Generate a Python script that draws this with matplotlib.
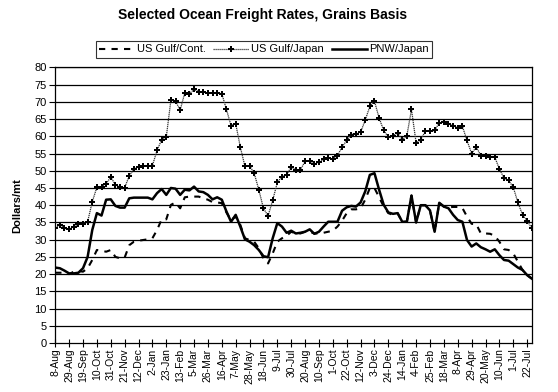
import matplotlib
matplotlib.use("Agg")
import matplotlib.pyplot as plt
import numpy as np

plt.rcParams['font.family'] = ['Liberation Sans', 'DejaVu Sans']

# weekly rates, $/mt, 8-Aug-2003 .. 29-Jul-2005
gulf_cont = [20.4, 20.4, 20.4, 20.0, 20.7, 20.9, 20.7, 21.7, 24.1, 27.0,
             26.8, 26.5, 27.0, 25.0, 24.6, 24.8, 28.4, 29.4, 29.7, 29.9,
             30.1, 30.4, 32.8, 35.9, 35.9, 40.1, 40.8, 39.1, 42.3, 42.5,
             42.5, 42.5, 42.0, 41.6, 40.9, 40.8, 40.6, 37.9, 35.7, 36.7,
             34.3, 30.4, 29.9, 29.4, 27.5, 24.6, 23.1, 26.0, 29.4, 30.4,
             31.1, 32.3, 31.8, 31.8, 32.3, 32.3, 31.8, 31.8, 32.0, 32.3,
             32.6, 33.8, 35.5, 37.7, 38.8, 38.8, 39.1, 41.6, 45.0, 45.0,
             42.3, 39.6, 37.7, 37.2, 37.7, 35.2, 35.2, 42.8, 35.0, 40.0,
             40.0, 38.5, 32.3, 40.7, 39.6, 39.4, 39.5, 39.5, 39.2, 36.7,
             34.6, 34.5, 31.8, 31.8, 31.7, 31.1, 29.4, 27.2, 27.0, 26.0,
             23.6, 21.2, 19.7, 18.7]

gulf_japan = [33.5, 34.3, 33.3, 33.0, 33.8, 34.5, 34.6, 35.2, 41.0, 45.2,
              45.4, 46.2, 48.2, 45.9, 45.2, 45.1, 48.5, 50.5, 51.1, 51.5,
              51.5, 51.5, 55.9, 59.0, 59.8, 70.5, 70.2, 67.6, 72.6, 72.4,
              73.6, 73.0, 72.9, 72.5, 72.5, 72.6, 72.4, 67.8, 63.1, 63.7,
              56.9, 51.3, 51.5, 49.3, 44.5, 39.1, 36.9, 41.4, 46.6, 48.3,
              48.8, 51.1, 50.3, 50.3, 52.7, 52.9, 52.0, 52.4, 53.4, 53.7,
              53.4, 54.4, 56.9, 58.8, 60.5, 60.8, 61.2, 64.7, 68.7, 70.2,
              65.3, 61.7, 59.8, 60.2, 61.0, 59.0, 60.2, 67.8, 58.1, 59.0,
              61.5, 61.5, 61.7, 63.9, 64.1, 63.7, 63.1, 62.4, 62.9, 58.8,
              55.0, 56.9, 54.4, 54.2, 53.9, 54.0, 50.5, 47.9, 47.2, 45.2,
              40.8, 37.2, 35.5, 33.3]

pnw_japan = [21.9, 21.7, 21.0, 20.2, 20.2, 20.4, 21.7, 25.0, 32.8, 37.7,
             37.0, 41.6, 41.7, 39.8, 39.3, 39.3, 42.0, 42.2, 42.2, 42.2,
             42.2, 41.7, 43.5, 44.7, 43.0, 45.0, 44.8, 43.0, 44.5, 44.3,
             45.4, 44.0, 43.8, 43.0, 41.7, 42.3, 41.6, 38.2, 35.2, 37.2,
             33.8, 30.1, 29.4, 28.4, 27.0, 25.2, 24.9, 30.4, 34.8, 33.8,
             32.0, 32.6, 31.8, 32.0, 32.3, 33.0, 31.7, 32.3, 33.8, 35.2,
             35.2, 35.2, 38.4, 39.4, 39.8, 39.6, 40.8, 44.0, 48.8, 49.3,
             44.5, 40.1, 37.9, 37.5, 37.7, 35.2, 35.2, 42.8, 35.0, 40.0,
             40.0, 38.5, 32.3, 40.7, 39.6, 39.1, 37.2, 35.7, 35.2, 29.9,
             28.0, 28.9, 27.8, 27.2, 26.5, 27.2, 25.5, 24.1, 23.9, 22.9,
             21.9, 21.2, 19.7, 18.7]

tick_labels = ['8-Aug', '29-Aug', '19-Sep', '10-Oct', '31-Oct', '21-Nov', '12-Dec',
               '2-Jan', '23-Jan', '13-Feb', '5-Mar', '26-Mar', '16-Apr', '7-May',
               '28-May', '18-Jun', '9-Jul', '30-Jul', '20-Aug', '10-Sep', '1-Oct',
               '22-Oct', '12-Nov', '3-Dec', '24-Dec', '14-Jan', '4-Feb', '25-Feb',
               '18-Mar', '8-Apr', '29-Apr', '20-May', '10-Jun', '1-Jul', '22-Jul']

x = np.arange(len(pnw_japan))

fig = plt.figure(figsize=(5.58, 3.92), dpi=100)
ax = fig.add_axes([0.099, 0.125, 0.854, 0.703])

ax.set_ylim(0, 80)
ax.set_xlim(0, len(x) - 1)
ax.set_yticks(np.arange(0, 81, 5))
for v in np.arange(5, 81, 5):
    ax.axhline(v, color='black', lw=0.9, zorder=1)

ax.plot(x, gulf_cont, color='black', lw=1.5, ls=(0, (3, 3)), label='US Gulf/Cont.', zorder=3)
ax.plot(x, gulf_japan, color='#333333', lw=0.9, ls=(0, (1, 0.6)), marker='P', ms=4,
        mew=0, mfc='black', label='US Gulf/Japan', zorder=4)
ax.plot(x, pnw_japan, color='black', lw=1.8, label='PNW/Japan', zorder=5)

ax.set_xticks(x[::3])
ax.set_xticklabels(tick_labels, rotation=90, fontsize=7.5)
ax.tick_params(axis='x', direction='inout', length=6, width=0.8, pad=1)
ax.tick_params(axis='y', direction='out', length=4, width=0.8, labelsize=8, pad=2)
for s in ax.spines.values():
    s.set_color('black')
    s.set_linewidth(0.9)

ax.set_ylabel('Dollars/mt', fontsize=8, fontweight='bold', labelpad=9)
fig.text(0.47, 0.962, 'Selected Ocean Freight Rates, Grains Basis',
         ha='center', va='center', fontsize=10, fontweight='bold')

leg = fig.legend(loc='center', bbox_to_anchor=(0.473, 0.874), ncol=3, fontsize=8,
                 frameon=True, fancybox=False, edgecolor='black', handlelength=3.2,
                 handletextpad=0.2, columnspacing=0.7, borderpad=0.3)
leg.get_frame().set_linewidth(0.8)

fig.savefig('out.png', dpi=100)
